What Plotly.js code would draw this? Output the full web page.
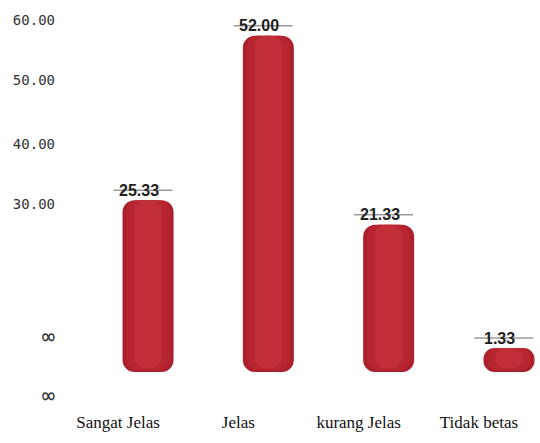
<!DOCTYPE html>
<html>
<head>
<meta charset="utf-8">
<script src="https://cdn.plot.ly/plotly-3.0.1.min.js"></script>
<style>html,body{margin:0;padding:0;background:#fff;}#chart{width:540px;height:443px;}</style>
</head>
<body>
<div id="chart"></div>
<script>
// ---- data ----
var categories = ["Sangat Jelas", "Jelas", "kurang Jelas", "Tidak betas"];
var values = [25.33, 52.00, 21.33, 1.33];
var valueLabels = ["25.33", "52.00", "21.33", "1.33"];
// y tick labels as printed on the reference (positions as they appear)
var yTickVals = [54.6, 44.8, 34.4, 24.7, 2.8, -6.8];
var yTickText = ["60.00", "50.00", "40.00", "30.00", "\u221E", "\u221E"];

// ---- style ----
var base = -2.56;          // visual foot of the cylinders
var barW = 0.424;
var xIdx = categories.map(function (c, i) { return i; });

function layer(width, color, lift) {
  return {
    type: "bar",
    x: xIdx,
    y: values.map(function (v) { return v - (base + lift); }),
    base: values.map(function () { return base + lift; }),
    width: width,
    marker: { color: color, line: { width: 0 }, cornerradius: 12 },
    hoverinfo: "skip",
    showlegend: false
  };
}

var traces = [
  layer(barW, "#aa202b", 0),
  layer(barW * 0.86, "#b72630", 0.3),
  layer(barW * 0.55, "#c22e38", 0.6)
];

var shapes = [];
values.forEach(function (v, i) {
  // grey leader line behind value label
  shapes.push({
    type: "line", xref: "x", yref: "y", layer: "below",
    x0: i - barW / 2 - 0.075, x1: i + barW / 2 - 0.01,
    ysizemode: "pixel", yanchor: v, y0: 10, y1: 10,
    line: { color: "#9a9a9a", width: 1.5 }
  });
});

var annotations = values.map(function (v, i) {
  return {
    x: i, y: v, xref: "x", yref: "y",
    text: valueLabels[i], showarrow: false,
    xanchor: "center", yanchor: "middle",
    xshift: -9, yshift: 10,
    font: { family: "Liberation Sans, Arial, sans-serif", size: 16, color: "#1e1e1e", weight: "bold" }
  };
});

var layout = {
  width: 540, height: 443,
  margin: { l: 56, r: 0, t: 5, b: 38 },
  paper_bgcolor: "#ffffff", plot_bgcolor: "#ffffff",
  barmode: "overlay",
  showlegend: false,
  xaxis: {
    range: [-0.765, 3.258],
    tickmode: "array", tickvals: xIdx, ticktext: categories,
    ticklabelshift: -30, ticklabelstandoff: 5,
    showgrid: false, zeroline: false, showline: false, ticks: "",
    tickfont: { family: "Liberation Serif, DejaVu Serif, serif", size: 17, color: "#111" }
  },
  yaxis: {
    range: [-7.92, 57.0],
    tickmode: "array", tickvals: yTickVals,
    ticktext: yTickText.map(function (t) {
      return t === "\u221E" ? '<span style="font-size:22px">' + t + '</span>' : t;
    }),
    showgrid: false, zeroline: false, showline: false, ticks: "",
    tickfont: { family: "DejaVu Sans Mono, monospace", size: 14, color: "#333" }
  },
  shapes: shapes,
  annotations: annotations
};

Plotly.newPlot("chart", traces, layout, { displayModeBar: false, staticPlot: true });
</script>
</body>
</html>
